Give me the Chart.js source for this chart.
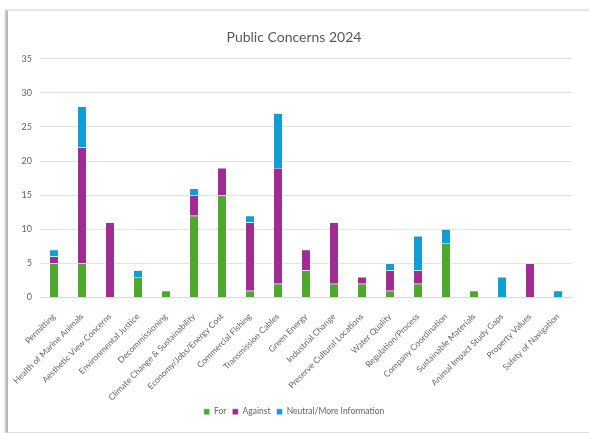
<!DOCTYPE html>
<html>
<head>
<meta charset="utf-8">
<script src="https://cdn.jsdelivr.net/npm/chart.js@4"></script>
<style>
  html, body { margin: 0; padding: 0; background: #fff; }
  body { width: 589px; height: 433px; overflow: hidden; position: relative; }
  #card {
    position: absolute; left: 6px; top: 10px; width: 590px; height: 421px;
    background: #fff;
    border-top: 1px solid #e6e6e6; border-bottom: 1px solid #e0e0e0;
    border-left: 2px solid #b8b8b8;
    box-shadow: -1px 0 2px rgba(0,0,0,0.25);
  }
  #wrap { position: absolute; left: 0; top: 0; width: 583px; height: 421px; }
</style>
</head>
<body>
<div id="card"><div id="wrap"><canvas id="myChart"></canvas></div></div>
<script>
// categories and counts
const categories = [
    "Permitting", "Health of Marine Animals", "Aesthetic View Concerns", "Environmental Justice",
    "Decommissioning", "Climate Change & Sustainability", "Economy/Jobs/Energy Cost",
    "Commercial Fishing", "Transmission Cables", "Green Energy", "Industrial Change",
    "Preserve Cultural Locations", "Water Quality", "Regulation/Process", "Company Coordination",
    "Sustainable Materials", "Animal Impact Study Gaps", "Property Values", "Safety of Navigation"
];
const forValues     = [5, 5, 0, 3, 1, 12, 15, 1, 2, 4, 2, 2, 1, 2, 8, 1, 0, 0, 0];
const againstValues = [1, 17, 11, 0, 0, 3, 4, 10, 17, 3, 9, 1, 3, 2, 0, 0, 0, 5, 0];
const neutralValues = [1, 6, 0, 1, 0, 1, 0, 1, 8, 0, 0, 0, 1, 5, 2, 0, 3, 0, 1];
const yTicks = [0, 5, 10, 15, 20, 25, 30, 35];

const font = "Lato, 'Open Sans', sans-serif";
const textColor = "#666666";

function makeSet(label, data, color) {
    return {
        label: label,
        data: data,
        backgroundColor: color,
        borderColor: "#ffffff",
        borderWidth: 0.5,
        barPercentage: 0.32,
        categoryPercentage: 1.0
    };
}

const ctx = document.getElementById("myChart").getContext("2d");
new Chart(ctx, {
    type: "bar",
    data: {
        labels: categories,
        datasets: [
            makeSet("For", forValues, "#4EA72E"),
            makeSet("Against", againstValues, "#A02B93"),
            makeSet("Neutral/More Information", neutralValues, "#0F9ED5")
        ]
    },
    options: {
        responsive: true,
        maintainAspectRatio: false,
        animation: false,
        layout: { padding: { left: 8, right: 19, top: 18, bottom: 6 } },
        plugins: {
            title: {
                display: true,
                text: "Public Concerns 2024",
                color: "#595959",
                font: { family: font, size: 14, weight: "normal" },
                padding: { top: 0, bottom: 13 }
            },
            legend: {
                position: "bottom",
                labels: {
                    color: textColor,
                    font: { family: font, size: 8.5 },
                    boxWidth: 6,
                    boxHeight: 6,
                    padding: 6
                }
            },
            tooltip: { enabled: false }
        },
        scales: {
            x: {
                stacked: true,
                grid: { display: false },
                border: { color: "#d9d9d9" },
                ticks: {
                    color: textColor,
                    font: { family: font, size: 8.5 },
                    maxRotation: 45,
                    minRotation: 45,
                    autoSkip: false,
                    padding: 6
                },
                afterFit: (scale) => {
                    scale.paddingLeft = 0;
                    scale.paddingRight = 0;
                    scale.height = 104;
                }
            },
            y: {
                stacked: true,
                min: yTicks[0],
                max: yTicks[yTicks.length - 1],
                afterBuildTicks: (axis) => { axis.ticks = yTicks.map(v => ({ value: v })); },
                grid: { color: "#e3e3e3", drawTicks: false },
                border: { display: false },
                ticks: {
                    color: textColor,
                    font: { family: font, size: 9 },
                    padding: 8
                },
                afterFit: (scale) => {
                    scale.width = 24;
                    scale.paddingTop = 0;
                    scale.paddingBottom = 0;
                }
            }
        }
    }
});
</script>
</body>
</html>
